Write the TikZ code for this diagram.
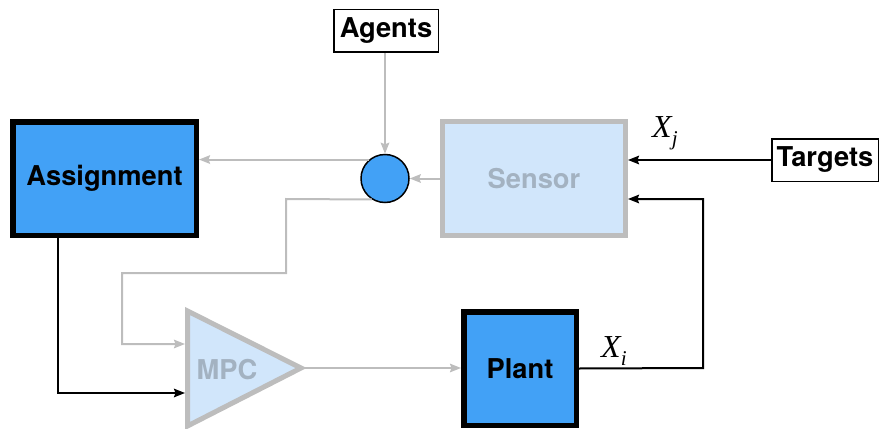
\documentclass[tikz,border=0pt]{standalone}
\usepackage{fontspec}
\setmainfont{TeX Gyre Heros}
\newfontfamily\xserif{Liberation Serif}
\usetikzlibrary{arrows.meta,calc}
\definecolor{blockblue}{HTML}{42A1F6}
\definecolor{paleblue}{HTML}{D1E6FB}
\definecolor{wire}{HTML}{BDBDBD}
\definecolor{dimtext}{HTML}{A3B2C1}
\begin{document}
\begin{tikzpicture}[x=1pt,y=-1pt,
  lbl/.style={font=\fontsize{27.3}{31}\selectfont\bfseries},
  tag/.style={draw=black,line width=1.5pt,fill=white,inner sep=0pt,lbl},
  heavy/.style={draw=black,line width=5.5pt,fill=blockblue,inner sep=0pt,lbl},
  faded/.style={draw=wire,line width=5pt,fill=paleblue,inner sep=0pt,lbl,text=dimtext},
  tip/.style={-{Stealth[length=11pt,width=8.5pt,inset=1.5pt]}},
  gwire/.style={draw=wire,line width=2pt,tip},
  bwire/.style={draw=black,line width=2pt,tip},
  sym/.style={inner sep=0pt,font=\xserif\itshape\fontsize{32}{32}\selectfont}]
\useasboundingbox (0,0) rectangle (880,428);

% blocks
\node[tag,minimum width=104.5pt,minimum height=42.5pt] (agents) at (386,31) {Agents};
\node[tag,minimum width=106.5pt,minimum height=42.5pt] (targets) at (825,160) {Targets};
\node[heavy,minimum width=183.5pt,minimum height=113.5pt] (assign) at (104.5,178.5) {Assignment};
\node[faded,minimum width=183pt,minimum height=114pt] (sensor) at (534,178.5) {Sensor};
\node[heavy,minimum width=112.5pt,minimum height=113.5pt] (plant) at (520,368.5) {Plant};
\node[circle,draw=black,line width=1.5pt,fill=blockblue,minimum size=48pt,inner sep=0pt] (dot) at (385,178.5) {};

% MPC amplifier triangle
\coordinate (mpcA) at (187.5,311);
\coordinate (mpcB) at (187.5,426);
\coordinate (mpcTip) at (301,368);
\filldraw[draw=wire,fill=paleblue,line width=5pt,line join=miter] (mpcA) -- (mpcTip) -- (mpcB) -- cycle;
\node[lbl,text=dimtext,inner sep=0pt] (mpc) at (227,370) {MPC};
\coordinate (mpcIn1) at (185,344);
\coordinate (mpcIn2) at (185,393);
\coordinate (mpcOut) at (305,368);

% signal paths
\draw[gwire] (agents.south -| dot.north) -- (dot.north);
\draw[gwire] (sensor.west |- dot.east) -- (dot.east);
\draw[gwire] (dot.130) -- (dot.130 -| assign.east);
\draw[gwire] (dot.238) -- (286,199) -- (286,273) -- (122,273) |- (mpcIn1);
\draw[bwire] ([xshift=-46.5pt]assign.south) |- (mpcIn2);
\draw[gwire] (mpcOut) -- (mpcOut -| plant.west);
\draw[bwire] (plant.east) -- (703,368) |- ([yshift=-20.5pt]sensor.east);
\draw[bwire] (targets.west) -- (targets.west -| sensor.east);

% state labels
\node[sym,anchor=base west] (xj) at (652,137) {X\raisebox{-8pt}{\fontsize{21}{21}\selectfont j}};
\node[sym,anchor=base west] (xi) at (601,357) {X\raisebox{-8pt}{\fontsize{21}{21}\selectfont i}};
\end{tikzpicture}
\end{document}
